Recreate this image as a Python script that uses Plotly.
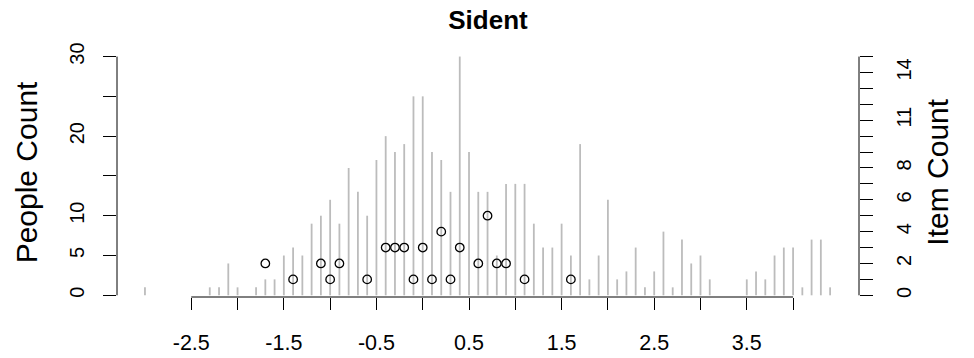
import plotly.graph_objects as go

# ---- data ----
person_bins = [-3.0, -2.3, -2.2, -2.1, -2.0, -1.8, -1.7, -1.6, -1.5, -1.4, -1.3, -1.2, -1.1, -1.0,
               -0.9, -0.8, -0.7, -0.6, -0.5, -0.4, -0.3, -0.2, -0.1, 0.0, 0.1, 0.2, 0.3, 0.4,
               0.5, 0.6, 0.7, 0.8, 0.9, 1.0, 1.1, 1.2, 1.3, 1.4, 1.5, 1.6, 1.7, 1.8, 1.9, 2.0,
               2.1, 2.2, 2.3, 2.4, 2.5, 2.6, 2.7, 2.8, 2.9, 3.0, 3.1, 3.5, 3.6, 3.7, 3.8, 3.9,
               4.0, 4.1, 4.2, 4.3, 4.4]
person_counts = [1, 1, 1, 4, 1, 1, 2, 2, 5, 6, 5, 9, 10, 12,
                 9, 16, 13, 10, 17, 20, 18, 19, 25, 25, 18, 17, 13, 30,
                 18, 13, 13, 5, 14, 14, 14, 9, 6, 6, 9, 5, 19, 2, 5, 12,
                 2, 3, 6, 1, 3, 8, 1, 7, 4, 5, 2, 2, 3, 2, 5, 6,
                 6, 1, 7, 7, 1]

item_bins = [-1.7, -1.4, -1.1, -1.0, -0.9, -0.6, -0.4, -0.3, -0.2, -0.1, 0.0, 0.1, 0.2,
             0.3, 0.4, 0.6, 0.7, 0.8, 0.9, 1.1, 1.6]
item_counts = [2, 1, 2, 1, 2, 1, 3, 3, 3, 1, 3, 1, 4, 1, 3, 2, 5, 2, 2, 1, 1]

x_ticks = [-2.5, -2.0, -1.5, -1.0, -0.5, 0.0, 0.5, 1.0, 1.5, 2.0, 2.5, 3.0, 3.5, 4.0]
x_ticklabels = ["-2.5", "", "-1.5", "", "-0.5", "", "0.5", "", "1.5", "", "2.5", "", "3.5", ""]
people_ticks = [0, 5, 10, 15, 20, 25, 30]
people_ticklabels = ["0", "5", "10", "", "20", "", "30"]
item_ticks = list(range(0, 16))
item_ticklabels = ["0", "", "2", "", "4", "", "6", "", "8", "", "", "11", "", "", "14", ""]

title = "Sident"
left_title = "People Count"
right_title = "Item Count"

FONT = "Liberation Sans, Arial, Helvetica, sans-serif"

# build vertical segments (type = "h")
seg_x, seg_y = [], []
for b, c in zip(person_bins, person_counts):
    seg_x += [b, b, None]
    seg_y += [0, c, None]

fig = go.Figure()
fig.add_trace(go.Scatter(x=seg_x, y=seg_y, mode="lines",
                         line=dict(color="#bcbcbc", width=1.8),
                         hoverinfo="skip", showlegend=False))
fig.add_trace(go.Scatter(x=item_bins, y=item_counts, mode="markers", yaxis="y2",
                         marker=dict(symbol="circle-open", size=8.5, color="black",
                                     line=dict(color="black", width=1.3)),
                         showlegend=False))

ylo, yhi = -0.214, 31.2
PL, PR = 116.7, 859.3
fig.update_layout(
    width=974, height=358,
    margin=dict(l=PL, r=974 - PR, t=47.2, b=358 - 296.7, autoexpand=False),
    paper_bgcolor="white", plot_bgcolor="white",
    font=dict(family=FONT, color="black"),
    title=dict(text="<b>" + title + "</b>", x=0.5, xref="paper", xanchor="center",
               y=1 - 20 / 358, yref="container", yanchor="middle",
               font=dict(size=26, family=FONT, color="black")),
    xaxis=dict(range=[-3.302, 4.712], showgrid=False, zeroline=False, showline=False,
               automargin=False,
               tickmode="array", tickvals=x_ticks, ticktext=x_ticklabels,
               ticks="outside", ticklen=12.3, tickwidth=1, tickcolor="black",
               ticklabelstandoff=14,
               tickfont=dict(size=21.5, family=FONT, color="black")),
    yaxis=dict(range=[ylo, yhi], showgrid=False, zeroline=False, showline=False,
               automargin=False,
               tickmode="array", tickvals=people_ticks, ticktext=people_ticklabels,
               ticks="outside", ticklen=12.7, tickwidth=1, tickcolor="black",
               ticklabelstandoff=11,
               tickangle=-90, tickfont=dict(size=20, family=FONT, color="black")),
    yaxis2=dict(range=[ylo / 2, yhi / 2], overlaying="y", side="right",
                automargin=False,
                showgrid=False, zeroline=False, showline=False,
                tickmode="array", tickvals=item_ticks, ticktext=item_ticklabels,
                ticks="outside", ticklen=12.7, tickwidth=1, tickcolor="black",
                ticklabelstandoff=14,
                tickangle=-90, tickfont=dict(size=20, family=FONT, color="black")),
    shapes=[
        dict(type="line", xref="x", yref="paper", x0=x_ticks[0], x1=x_ticks[-1], y0=0, y1=0,
             line=dict(color="black", width=1)),
        dict(type="line", xref="paper", yref="y", x0=0, x1=0,
             y0=people_ticks[0], y1=people_ticks[-1], line=dict(color="black", width=1)),
        dict(type="line", xref="paper", yref="y2", x0=1, x1=1,
             y0=item_ticks[0], y1=item_ticks[-1], line=dict(color="black", width=1)),
    ],
    annotations=[
        dict(text=left_title, xref="paper", yref="paper", x=(26 - PL) / (PR - PL),
             y=0.5, xanchor="center", yanchor="middle", textangle=-90, showarrow=False,
             font=dict(size=30, family=FONT, color="black")),
        dict(text=right_title, xref="paper", yref="paper", x=(937 - PL) / (PR - PL),
             y=0.5, xanchor="center", yanchor="middle", textangle=-90, showarrow=False,
             font=dict(size=30, family=FONT, color="black")),
    ],
)

fig.write_html("out.html")
